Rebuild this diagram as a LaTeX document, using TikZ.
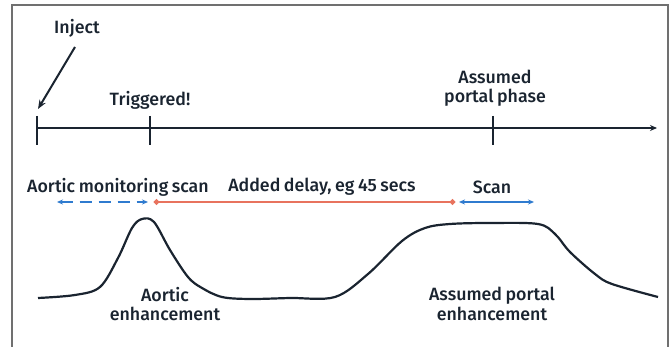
\documentclass[tikz,border=0pt]{standalone}
\usepackage{fontspec}
\setmainfont{Fira Sans}[UprightFont={* Medium}]
\usetikzlibrary{arrows.meta}
\definecolor{ink}{HTML}{1A2430}
\definecolor{redd}{HTML}{E8735E}
\definecolor{bluu}{HTML}{2F7BCF}
\definecolor{frame}{HTML}{707070}
\newcommand\myfnt{\fontsize{17.8}{19.5}\selectfont\spaceskip 0.2em plus 0.05em\relax}
\tikzset{
  lbl/.style={font=\myfnt, text=ink, inner sep=0pt, align=center},
  tick/.style={draw=ink, line width=2.2pt},
  axis/.style={draw=ink, line width=2.1pt},
  curve/.style={draw=ink, line width=2.2pt, line join=round},
}
\begin{document}
\begin{tikzpicture}[x=1pt,y=-1pt]
\useasboundingbox (0,0) rectangle (670,347);
\fill[white] (0,0) rectangle (670,347);
\draw[frame, line width=1.6pt] (12,347) -- (12,5) -- (668,5) -- (668,347);
% axis
\coordinate (a0) at (37,128);
\coordinate (a1) at (657,128);
\draw[axis, -{Stealth[length=7pt,width=6pt]}] (a0) -- (a1);
\coordinate (t1a) at (37,116); \coordinate (t1b) at (37,145);
\coordinate (t2a) at (150,116); \coordinate (t2b) at (150,145);
\coordinate (t3a) at (493,116); \coordinate (t3b) at (493,145);
\draw[tick] (t1a) -- (t1b);
\draw[tick] (t2a) -- (t2b);
\draw[tick] (t3a) -- (t3b);
% labels
\node[lbl] (inject) at (77,28) {Inject};
\coordinate (injtip) at (38,109);
\draw[ink, line width=2pt, -{Stealth[length=9pt,width=7pt]}] (75,47) -- (injtip);
\node[lbl] (trig) at (150,100) {Triggered!};
\node[lbl] (port) at (495,88) {Assumed\\portal phase};
\node[lbl] (mon) at (118,187) {Aortic monitoring scan};
\node[lbl] (delay) at (322,187) {Added delay, eg 45 secs};
\node[lbl] (scan) at (492,187) {Scan};
% intervals
\coordinate (m0) at (57,202); \coordinate (m1) at (148,202);
\coordinate (d0) at (154,202); \coordinate (d1) at (455,202);
\coordinate (s0) at (459,202); \coordinate (s1) at (534,202);
\draw[bluu, line width=1.6pt, dash pattern=on 12pt off 7pt, {Stealth[length=6pt,width=5pt]}-{Stealth[length=6pt,width=5pt]}] (m0) -- (m1);
\draw[redd, line width=2.6pt, {Circle[length=5pt]}-{Circle[length=5pt]}] (d0) -- (d1);
\draw[bluu, line width=1.4pt, {Stealth[length=6pt,width=5pt]}-{Stealth[length=6pt,width=5pt]}] (s0) -- (s1);
% curve
\draw[curve] plot[smooth, tension=0.55] coordinates {
(38,298) (75,295) (100,287) (118,258) (132,228) (142,219) (154,222) (170,250) (188,277) (202,288) (222,297) (250,299)
(290,298) (335,297) (368,274) (402,241) (425,228) (450,224) (490,223) (538,224) (555,234) (570,252) (595,274) (612,284) (658,297)};
\node[lbl] (aortic) at (165,304) {Aortic\\enhancement};
\node[lbl] (portal) at (492,304) {Assumed portal\\enhancement};
\end{tikzpicture}
\end{document}
